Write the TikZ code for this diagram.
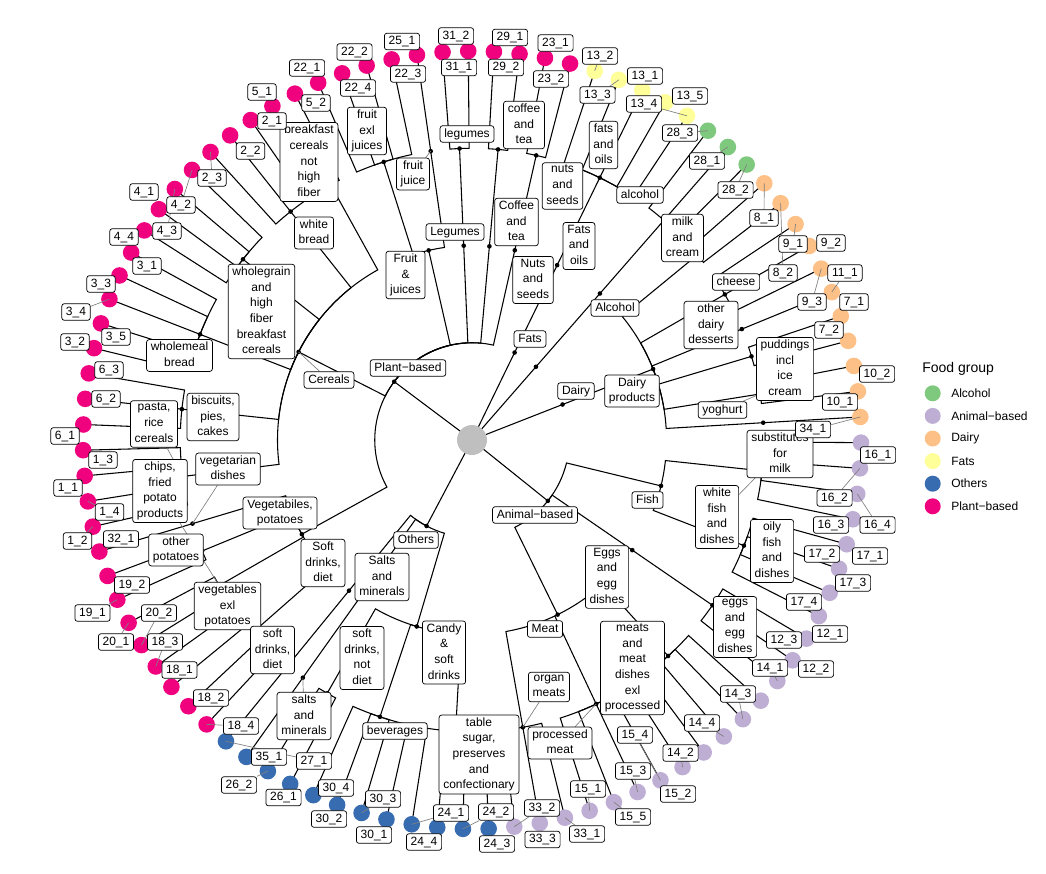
\documentclass[tikz,border=0pt]{standalone}
\usepackage{fontspec}
\setmainfont{Liberation Sans}

\pgfdeclarelayer{lines}
\pgfdeclarelayer{leaders}
\pgfdeclarelayer{labels}
\pgfsetlayers{lines,main,leaders,labels}

\definecolor{calc}{HTML}{7FC97F}
\definecolor{canim}{HTML}{BEAED4}
\definecolor{cdairy}{HTML}{FDC086}
\definecolor{cfats}{HTML}{FFFF99}
\definecolor{cother}{HTML}{386CB0}
\definecolor{cplant}{HTML}{F0027F}

\tikzset{
  branch/.style={line width=0.8pt},
  leader/.style={gray, line width=0.5pt},
  lbl/.style={draw, fill=white, rounded corners=2pt, line width=0.55pt,
    inner xsep=3.2pt, inner ysep=1.8pt, align=center,
    font=\fontsize{9}{11.75}\selectfont,
    execute at begin node={\rule{0pt}{6.9pt}},
    execute at end node={\rule[-2pt]{0pt}{0pt}}},
}

\begin{document}
\begin{tikzpicture}[x=0.75pt, y=-0.75pt]
  \useasboundingbox (0,0) rectangle (1046,874);

  \begin{scope}[shift={(472,440)}, yscale=-1]
    % Tree points
    \coordinate (root) at (0,0);
    \foreach \k in {1,...,95}
      \coordinate (l\k) at ({3.4-3.7895*\k}:389);
    \foreach \g/\a in {animal/-38.76, others/-117.87, plant/-216.87,
        fats/-295.97, alcohol/-311.13, dairy/-338.6}
      \coordinate (\g) at (\a:97.25);

    % Branches
    \begin{pgfonlayer}{lines}
      \foreach \g in {animal,others,plant,fats,alcohol,dairy}
        \draw[branch] (root) -- (\g);
      \foreach \c/\a/\p/\pa in {fish/-13.65/animal/-38.76, eggs/-34.50/animal/-38.76,
          meat/-63.87/animal/-38.76, candy/-106.50/others/-117.87,
          softdiet/-125.44/others/-117.87, salts/-129.23/others/-117.87,
          veg/-151.03/plant/-216.87, cereals/-206.92/plant/-216.87,
          fruit/-257.13/plant/-216.87, legumes/-267.55/plant/-216.87,
          coffee/-275.13/plant/-216.87, nuts/-282.71/plant/-216.87,
          fatsoils/-295.97/fats/-295.97, alcoholcat/-311.13/alcohol/-311.13,
          dairyprod/-338.6/dairy/-338.6}
      {
        \coordinate (\c) at (\a:194.5);
        \draw[branch] (\p) arc[start angle=\pa, end angle=\a, radius=97.25] -- (\c);
      }
      \foreach \s/\a/\p/\pa in {s16/-6.07/fish/-13.65, s17/-21.23/fish/-13.65,
          s12/-34.50/eggs/-34.50, s14/-47.76/meat/-63.87, s15/-64.81/meat/-63.87,
          s33/-79.97/meat/-63.87, s24/-93.23/candy/-106.50, s30/-108.39/candy/-106.50,
          s26/-119.76/candy/-106.50, s27/-125.44/softdiet/-125.44,
          s35/-129.23/salts/-129.23, s18/-138.71/veg/-151.03, s20/-150.07/veg/-151.03,
          s19/-157.65/veg/-151.03, s32/-163.34/veg/-151.03,
          s1/-172.81/cereals/-206.92, s6/-186.07/cereals/-206.92,
          s3/-201.23/cereals/-206.92, s4/-218.28/cereals/-206.92,
          s2/-231.55/cereals/-206.92, s5/-241.02/cereals/-206.92,
          s22/-252.39/fruit/-257.13, s25/-261.86/fruit/-257.13,
          s31/-267.55/legumes/-267.55, s29/-275.13/coffee/-275.13,
          s23/-282.71/nuts/-282.71, s13/-295.97/fatsoils/-295.97,
          s28/-311.13/alcoholcat/-311.13, s8/-320.6/dairyprod/-338.6,
          s9/-330.07/dairyprod/-338.6, s11/-337.65/dairyprod/-338.6,
          s7/-343.34/dairyprod/-338.6, s10/-350.92/dairyprod/-338.6,
          s34/-356.6/dairyprod/-338.6}
      {
        \coordinate (\s) at (\a:291.75);
        \draw[branch] (\p) arc[start angle=\pa, end angle=\a, radius=194.5] -- (\s);
      }
      \foreach \s/\a/\i/\j in {s16/-6.07/1/4, s17/-21.23/5/8, s12/-34.50/9/11,
          s14/-47.76/12/15, s15/-64.81/16/20, s33/-79.97/21/23, s24/-93.23/24/27,
          s30/-108.39/28/31, s26/-119.76/32/33, s27/-125.44/34/34, s35/-129.23/35/35,
          s18/-138.71/36/39, s20/-150.07/40/41, s19/-157.65/42/43, s32/-163.34/44/44,
          s1/-172.81/45/48, s6/-186.07/49/51, s3/-201.23/52/56, s4/-218.28/57/60,
          s2/-231.55/61/63, s5/-241.02/64/65, s22/-252.39/66/69, s25/-261.86/70/70,
          s31/-267.55/71/72, s29/-275.13/73/74, s23/-282.71/75/76, s13/-295.97/77/81,
          s28/-311.13/82/84, s8/-320.6/85/86, s9/-330.07/87/89, s11/-337.65/90/90,
          s7/-343.34/91/92, s10/-350.92/93/94, s34/-356.6/95/95}
        \foreach \k in {\i,...,\j}
          \draw[branch] (\s) arc[start angle=\a, end angle={3.4-3.7895*\k}, radius=291.75] -- (l\k);
    \end{pgfonlayer}

    % Leaves
    \foreach \i/\j/\c in {1/23/canim, 24/35/cother, 36/76/cplant, 77/81/cfats, 82/84/calc, 85/95/cdairy}
      \foreach \k in {\i,...,\j}
        \fill[\c] (l\k) circle (8.3);

    % Inner points
    \foreach \n in {animal,others,plant,fats,alcohol,dairy,fish,eggs,meat,candy,softdiet,
        salts,veg,cereals,fruit,legumes,coffee,nuts,fatsoils,alcoholcat,dairyprod,
        s16,s17,s12,s14,s15,s33,s24,s30,s26,s27,s35,s18,s20,s19,s32,s1,s6,s3,s4,s2,s5,
        s22,s25,s31,s29,s23,s13,s28,s8,s9,s11,s7,s10,s34}
      \fill (\n) circle (2.3);
    \fill[gray!50] (root) circle (15);
  \end{scope}

  \begin{pgfonlayer}{labels}
    % Group and category labels
    \node[lbl] (lb-plant) at (408,368) {Plant−based};
    \node[lbl] (lb-cereals) at (329,380) {Cereals};
    \node[lbl] (lb-fats) at (530,339) {Fats};
    \node[lbl] (lb-dairy) at (576,391) {Dairy};
    \node[lbl] (lb-alcohol) at (615,308) {Alcohol};
    \node[lbl] (lb-animal) at (535,515) {Animal−based};
    \node[lbl] (lb-others) at (416,540) {Others};
    \node[lbl] (lb-fish) at (647.5,500) {Fish};
    \node[lbl] (lb-eggs) at (607,577) {Eggs\\and\\egg\\dishes};
    \node[lbl] (lb-meat) at (545,629) {Meat};
    \node[lbl] (lb-candy) at (444,652.5) {Candy\\\&\\soft\\drinks};
    \node[lbl] (lb-salts) at (382,577) {Salts\\and\\minerals};
    \node[lbl] (lb-softdiet) at (323,563) {Soft\\drinks,\\diet};
    \node[lbl] (lb-veg) at (280,513) {Vegetabiles,\\potatoes};
    \node[lbl] (lb-fruit) at (405.5,275) {Fruit\\\&\\juices};
    \node[lbl] (lb-legumes) at (455,232) {Legumes};
    \node[lbl] (lb-coffee) at (516.5,222) {Coffee\\and\\tea};
    \node[lbl] (lb-nuts) at (533,280) {Nuts\\and\\seeds};
    \node[lbl] (lb-fatsoils) at (579,246) {Fats\\and\\oils};
    \node[lbl] (lb-dairyprod) at (632,391) {Dairy\\products};

    % Subcategory labels
    \node[lbl] (lb-whitebread) at (314,233) {white\\bread};
    \node[lbl] (lb-wholemeal) at (179.5,355.5) {wholemeal\\bread};
    \node[lbl] (lb-breakfast) at (309,162) {breakfast\\cereals\\not\\high\\fiber};
    \node[lbl] (lb-wholegrain) at (261.5,311.5) {wholegrain\\and\\high\\fiber\\breakfast\\cereals};
    \node[lbl] (lb-pasta) at (154,424) {pasta,\\rice\\cereals};
    \node[lbl] (lb-biscuits) at (213,417) {biscuits,\\pies,\\cakes};
    \node[lbl] (lb-chips) at (160,491) {chips,\\fried\\potato\\products};
    \node[lbl] (lb-vegetarian) at (228,469) {vegetarian\\dishes};
    \node[lbl] (lb-otherpot) at (176,550) {other\\potatoes};
    \node[lbl] (lb-vegexl) at (227.5,606) {vegetables\\exl\\potatoes};
    \node[lbl] (lb-fruitexl) at (367,131) {fruit\\exl\\juices};
    \node[lbl] (lb-fruitjuice) at (413,174) {fruit\\juice};
    \node[lbl] (lb-legumessub) at (467,134) {legumes};
    \node[lbl] (lb-coffeesub) at (524,125) {coffee\\and\\tea};
    \node[lbl] (lb-nutssub) at (562.5,186) {nuts\\and\\seeds};
    \node[lbl] (lb-fatssub) at (603.5,145) {fats\\and\\oils};
    \node[lbl] (lb-alcoholsub) at (640,195) {alcohol};
    \node[lbl] (lb-milk) at (682.5,238) {milk\\and\\cream};
    \node[lbl] (lb-cheese) at (736,282) {cheese};
    \node[lbl] (lb-desserts) at (711,325) {other\\dairy\\desserts};
    \node[lbl] (lb-puddings) at (785,369) {puddings\\incl\\ice\\cream};
    \node[lbl] (lb-yoghurt) at (722.5,410) {yoghurt};
    \node[lbl] (lb-substitutes) at (780,454) {substitutes\\for\\milk};
    \node[lbl] (lb-whitefish) at (717,517) {white\\fish\\and\\dishes};
    \node[lbl] (lb-oilyfish) at (772,551) {oily\\fish\\and\\dishes};
    \node[lbl] (lb-eggssub) at (735,627) {eggs\\and\\egg\\dishes};
    \node[lbl] (lb-meats) at (632.5,668) {meats\\and\\meat\\dishes\\exl\\processed};
    \node[lbl] (lb-processed) at (560,743) {processed\\meat};
    \node[lbl] (lb-organ) at (549,687) {organ\\meats};
    \node[lbl] (lb-sugar) at (479,754.5) {table\\sugar,\\preserves\\and\\confectionary};
    \node[lbl] (lb-beverages) at (395,731) {beverages};
    \node[lbl] (lb-softnot) at (362,658) {soft\\drinks,\\not\\diet};
    \node[lbl] (lb-softdietsub) at (272.5,650) {soft\\drinks,\\diet};
    \node[lbl] (lb-saltssub) at (304,716) {salts\\and\\minerals};

    % Leaf labels
    \foreach \a/\b/\x/\y in {23/1/555.5/43, 23/2/551/79, 29/1/510/37.5, 29/2/506/67.5,
        31/2/456/36, 31/1/459/67.5, 25/1/402/41.5, 22/3/408/74, 22/2/354.5/52,
        22/4/358/88, 22/1/307/68, 5/2/316/103, 5/1/262/92, 2/1/272/121, 2/2/250.5/151,
        2/3/212/178, 4/1/144/192, 4/2/181/205, 4/3/167/231, 4/4/124/237, 3/1/147/266,
        3/3/101/284, 3/4/76/312, 3/5/116/337, 3/2/75/342, 6/3/109/370, 6/2/106/399,
        6/1/65/436, 1/3/103/460, 1/1/68/488, 1/4/109.5/512, 1/2/77.5/541, 32/1/121/539,
        19/2/132/585, 19/1/92.5/613, 20/2/159/613, 20/1/116/642, 18/3/165/642,
        18/1/179.5/670, 18/2/211/698, 18/4/241/726,
        13/2/600/56, 13/1/645/76, 13/3/597.5/95, 13/4/644/104, 13/5/690/96,
        28/3/680/133, 28/1/707/161, 28/2/735.5/190,
        8/1/764/218, 9/1/793/244, 9/2/831/243, 8/2/783/273, 11/1/845/273, 9/3/812/302,
        7/1/854/302, 7/2/829/330, 10/2/877/374, 10/1/840/402, 34/1/813/429.5,
        16/1/878/455, 16/2/834.5/498, 16/3/831/525, 16/4/877.5/525, 17/2/822/554,
        17/1/870/556, 17/3/853/583, 17/4/804/602, 12/1/830/634, 12/3/784/640,
        12/2/816/669, 14/1/770/668, 14/3/738/694, 14/4/702/723, 14/2/680.5/753,
        15/4/635/735, 15/3/633/771, 15/2/678/794, 15/1/588/789, 15/5/633/817,
        33/2/542/808, 33/1/587/834, 33/3/542.5/839.5,
        24/1/451/813, 24/2/496/812, 24/3/497/844, 24/4/424/842, 30/1/374/835,
        30/2/329/819, 30/3/383/799, 30/4/336/788, 27/1/314/761, 26/1/283.5/797.5,
        26/2/239/785, 35/1/269/757}
      \node[lbl] (t\a-\b) at (\x,\y) {\a\_\b};
  \end{pgfonlayer}

  % Leader lines
  \begin{pgfonlayer}{leaders}
    \foreach \t/\p in {t2-3/l61, t4-2/l60, t4-3/l59, t3-4/l54, t1-4/l46, t1-2/l45,
        t19-1/l42, t20-1/l41, t20-2/l40, t18-3/l39, t18-4/l36, t27-1/l35, t26-2/l33,
        t30-3/l29, t24-1/l27, t24-2/l25, t33-2/l23, t33-1/l21, t15-1/l20, t15-5/l19,
        t15-3/l18, t15-4/l17, t14-2/l16, t14-4/l14, t14-3/l13, t14-1/l11, t16-4/l3,
        t16-2/l2, t34-1/l95, t11-1/l90, t9-3/l89, t9-1/l87, t8-2/l86, t8-1/l85,
        t28-2/l84, t28-1/l83, t28-3/l82, t13-4/l81, t13-3/l78, t13-2/l77,
        lb-yoghurt/s10, lb-whitefish/s16, lb-organ/s33, lb-processed/s15,
        lb-saltssub/s27, lb-cereals/cereals, lb-fruitjuice/s25, lb-pasta/s1,
        lb-vegetarian/s32, lb-chips/s20}
      \draw[leader] (\t) -- (\p);
  \end{pgfonlayer}

  % Legend
  \node[anchor=west, inner sep=0pt, font=\fontsize{10.5}{12}\selectfont] (legtitle) at (922,369) {Food group};
  \foreach \c/\t [count=\i from 0] in {calc/Alcohol, canim/Animal−based, cdairy/Dairy,
      cfats/Fats, cother/Others, cplant/Plant−based}
  {
    \fill[\c] (932.7,{393.3+22.6*\i}) circle (8);
    \node[anchor=west, inner sep=0pt, font=\fontsize{9}{11}\selectfont] (leg\i) at (951,{393.3+22.6*\i}) {\t};
  }
\end{tikzpicture}
\end{document}
